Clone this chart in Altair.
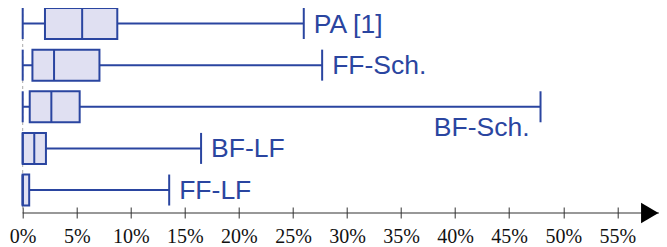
import altair as alt
import pandas as pd

categories = ["PA [1]", "FF-Sch.", "BF-Sch.", "BF-LF", "FF-LF"]
mins = [0, 0, 0, 0, 0]
q1 = [2.06, 0.9, 0.65, 0.0, 0.0]
med = [5.5, 2.9, 2.65, 1.07, 0.0]
q3 = [8.75, 7.1, 5.27, 2.15, 0.6]
maxs = [26.0, 27.7, 47.9, 16.5, 13.55]
tick_values = [0, 5, 10, 15, 20, 25, 30, 35, 40, 45, 50, 55]
x_max = 58.86

df = pd.DataFrame({
    "cat": categories,
    "lo": mins, "q1": q1, "med": med, "q3": q3, "hi": maxs,
})
ends = pd.DataFrame({"lo": [0], "hi": [x_max]})

BLUE = "#2a45a0"
FILL = "#e0e0f2"
W, H = 636.3, 205

xs = alt.Scale(domain=[0, x_max], nice=False, zero=False)
ys = alt.Scale(domain=categories, range=[-5.3, 202.85], paddingInner=0.0, paddingOuter=0.0)

base = alt.Chart(df)

xaxis = alt.Axis(
    values=tick_values, labelExpr="datum.value + '%'", domain=False, grid=False,
    tickSize=11, offset=-6, tickColor="#333", tickWidth=1,
    labelFont="Liberation Serif", labelFontSize=20, labelColor="#111",
    labelPadding=8, labelFlush=False, labelOverlap=False, title=None)

Y = alt.Y("cat:N", scale=ys, axis=None, sort=categories)

whisker = base.mark_rule(color=BLUE, strokeWidth=2).encode(
    x=alt.X("lo:Q", scale=xs, axis=xaxis), x2="hi:Q", y=Y)
box = base.mark_bar(size=31, fill=FILL, stroke=BLUE, strokeWidth=2).encode(
    x=alt.X("q1:Q"), x2="q3:Q", y=Y)
cap_lo = base.mark_tick(size=31, thickness=2, color=BLUE, opacity=1).encode(x=alt.X("lo:Q"), y=Y)
cap_hi = base.mark_tick(size=31, thickness=2, color=BLUE, opacity=1).encode(x=alt.X("hi:Q"), y=Y)
median = base.mark_tick(size=31, thickness=2, color=BLUE, opacity=1).encode(x=alt.X("med:Q"), y=Y)

lab_right = base.transform_filter("datum.cat != 'BF-Sch.'").mark_text(
    align="left", baseline="middle", dx=10, dy=1, font="Liberation Sans", fontSize=26.5, color=BLUE
).encode(x=alt.X("hi:Q"), y=Y, text="cat:N")
lab_left = base.transform_filter("datum.cat == 'BF-Sch.'").mark_text(
    align="right", baseline="middle", dx=-11, dy=21, font="Liberation Sans", fontSize=26.5, color=BLUE
).encode(x=alt.X("hi:Q"), y=Y, text="cat:N")

ends_base = alt.Chart(ends)
zero_line = ends_base.mark_rule(color="#aaaaaa", strokeDash=[3, 3], strokeWidth=1).encode(
    x=alt.X("lo:Q"), y=alt.value(0), y2=alt.value(H))
axis_line = ends_base.mark_rule(color="#333", strokeWidth=1.2).encode(
    x=alt.X("lo:Q"), x2="hi:Q", y=alt.value(H))
arrow = ends_base.mark_point(
    shape="M -1.7 -1 L 0 0 L -1.7 1 Z", size=420, filled=True, color="#000", opacity=1, xOffset=-0.5
).encode(x=alt.X("hi:Q"), y=alt.value(H))

chart = alt.layer(
    whisker, zero_line, axis_line, arrow, box, cap_lo, cap_hi, median, lab_right, lab_left
).properties(
    width=W, height=H,
    autosize=alt.AutoSizeParams(type="none"),
    padding={"left": 14.7, "top": 0, "right": 0, "bottom": 34},
    background="white",
).configure_view(stroke=None)

chart.save("out.html", embed_options={"renderer": "svg", "actions": False})
